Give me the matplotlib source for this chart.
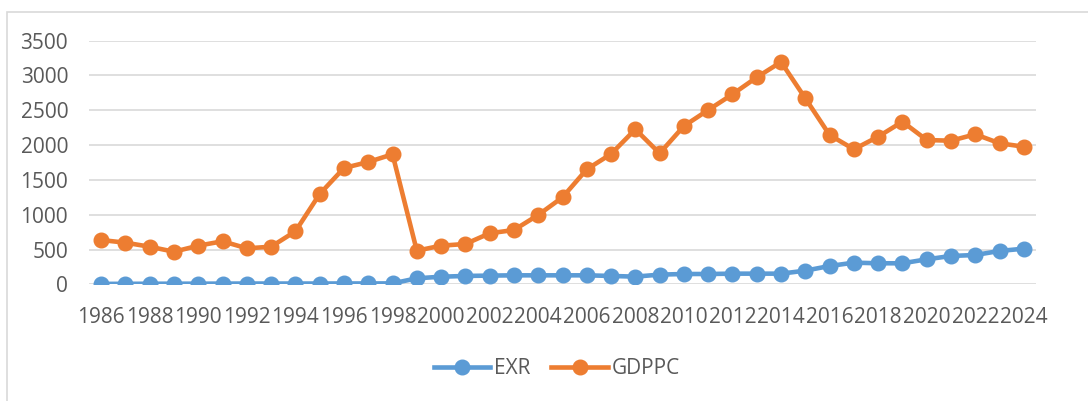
import numpy as np
import matplotlib.pyplot as plt
from matplotlib.patches import Rectangle

years = list(range(1986, 2025))

exr = [6, 7, 8, 9, 9, 10, 11, 11, 11, 11, 12, 12, 13,
       86, 109, 120, 125, 129, 129, 129, 129, 120, 110, 139,
       148, 148, 153, 153, 153, 196, 263, 311, 302, 302,
       359, 407, 421, 479, 512]

gdppc = [636, 598, 540, 468, 555, 618, 517, 540, 761, 1297,
         1671, 1757, 1868, 483, 555, 579, 733, 780, 996, 1250,
         1652, 1872, 2227, 1882, 2274, 2504, 2730, 2974, 3194, 2672,
         2145, 1940, 2121, 2336, 2073, 2063, 2155, 2026, 1977]

plt.rcParams['font.family'] = ['Open Sans', 'DejaVu Sans']
txt = '#595959'

fig = plt.figure(figsize=(10.88, 4.01), dpi=100)
fig.patches.append(Rectangle((7/1088, -0.1), 1.2, 1 - 12/401 + 0.1,
                             transform=fig.transFigure, fill=False,
                             edgecolor='#D9D9D9', linewidth=1.2))

ax = fig.add_axes([89/1088, 1 - 284.3/401, 947/1088, (284.3 - 40.7)/401])

ax.plot(years, exr, color='#5B9BD5', lw=3.3, marker='o', ms=10.5, label='EXR', zorder=3)
ax.plot(years, gdppc, color='#ED7D31', lw=3.3, marker='o', ms=10.5, label='GDPPC', zorder=3)

ax.set_xlim(1985.5, 2024.5)
ax.set_ylim(0, 3500)
ax.set_yticks(range(0, 3501, 500))
ax.set_xticks(years[::2])
ax.grid(axis='y', color='#D9D9D9', lw=1.2)
ax.set_axisbelow(True)
for s in ax.spines.values():
    s.set_visible(False)
ax.tick_params(length=0, labelsize=15, colors=txt)
ax.tick_params(axis='y', pad=15)
ax.tick_params(axis='x', pad=16)

fig.legend(loc='center', bbox_to_anchor=(557/1088, 1 - 369/401), ncol=2,
           frameon=False, fontsize=15, handlelength=2.7, columnspacing=1.0,
           handletextpad=0.2, labelcolor=txt)

fig.savefig('out.png', dpi=100)
